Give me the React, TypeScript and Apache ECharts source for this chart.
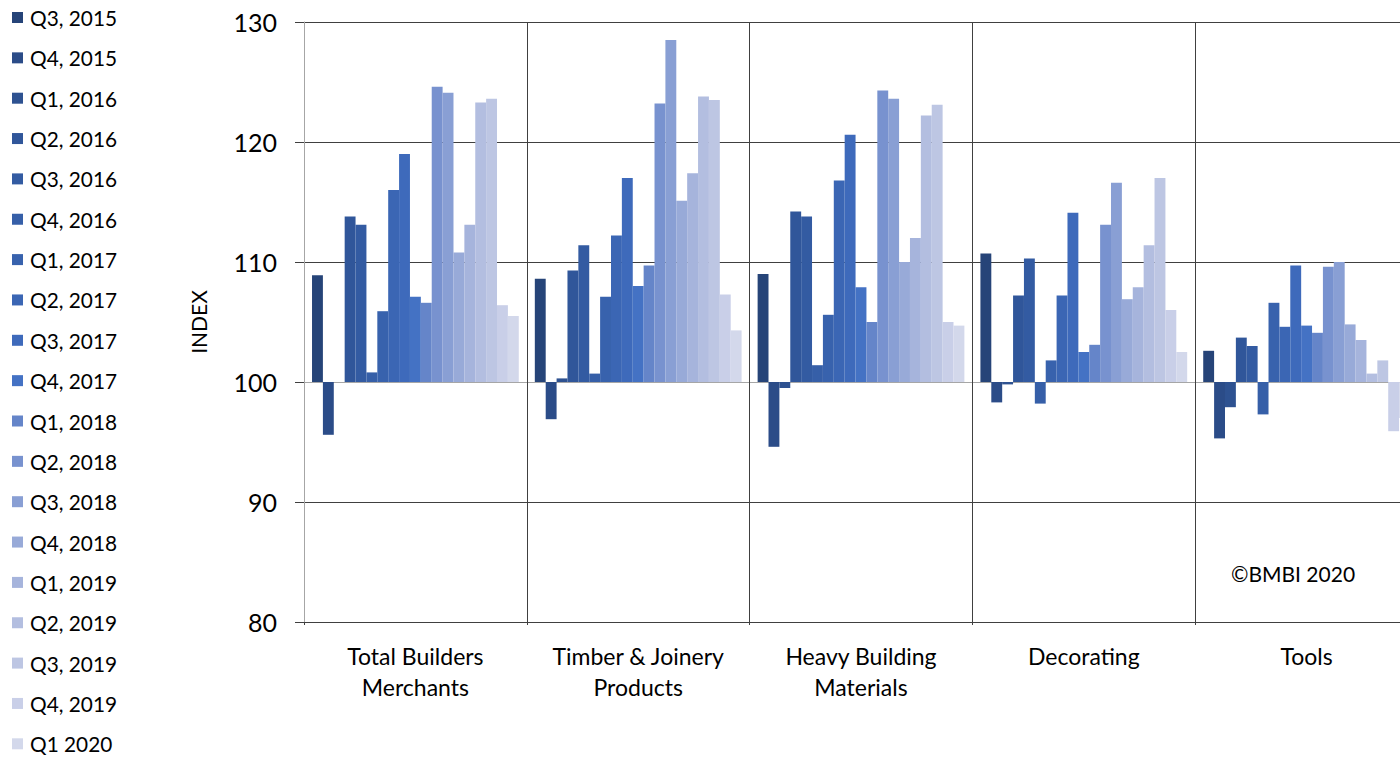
import React, { useEffect, useRef } from "react";
import * as echarts from "echarts";

const categories = [
  "Total Builders\nMerchants",
  "Timber & Joinery\nProducts",
  "Heavy Building\nMaterials",
  "Decorating",
  "Tools",
];

const quarters = [
  "Q3, 2015", "Q4, 2015", "Q1, 2016", "Q2, 2016", "Q3, 2016", "Q4, 2016",
  "Q1, 2017", "Q2, 2017", "Q3, 2017", "Q4, 2017", "Q1, 2018", "Q2, 2018",
  "Q3, 2018", "Q4, 2018", "Q1, 2019", "Q2, 2019", "Q3, 2019", "Q4, 2019",
  "Q1 2020",
];

const quarterColors = [
  "#264478", "#2B4C88", "#2E5291", "#30569A", "#335BA2", "#365FA8",
  "#3862AD", "#3B66B4", "#3E6ABB", "#4472C4", "#6585C9", "#7892CF",
  "#899FD4", "#98AAD8", "#A6B4DC", "#B3BEE0", "#BDC6E3", "#C9CFE8",
  "#D3D8EB",
];

// values per category, one per quarter (Q3 2015 .. Q1 2020)
const totalBuilders = [108.9, 95.6, 100.0, 113.8, 113.1, 100.8, 105.9, 116.0, 119.0, 107.1, 106.6, 124.6, 124.1, 110.8, 113.1, 123.3, 123.6, 106.4, 105.5];
const timberJoinery = [108.6, 96.9, 100.3, 109.3, 111.4, 100.7, 107.1, 112.2, 117.0, 108.0, 109.7, 123.2, 128.5, 115.1, 117.4, 123.8, 123.5, 107.3, 104.3];
const heavyBuilding = [109.0, 94.6, 99.5, 114.2, 113.8, 101.4, 105.6, 116.8, 120.6, 107.9, 105.0, 124.3, 123.6, 110.0, 112.0, 122.2, 123.1, 105.0, 104.7];
const decorating = [110.7, 98.3, 99.8, 107.2, 110.3, 98.2, 101.8, 107.2, 114.1, 102.5, 103.1, 113.1, 116.6, 106.9, 107.9, 111.4, 117.0, 106.0, 102.5];
const tools = [102.6, 95.3, 97.9, 103.7, 103.0, 97.3, 106.6, 104.6, 109.7, 104.7, 104.1, 109.6, 110.0, 104.8, 103.5, 100.7, 101.8, 95.9, 97.0];

const categoryValues = [totalBuilders, timberJoinery, heavyBuilding, decorating, tools];

const BASE_VALUE = 100;
const yTicks = [80, 90, 100, 110, 120, 130];
const copyright = "©BMBI 2020";
const yAxisTitle = "INDEX";

const FONT = "Lato, 'Open Sans', sans-serif";

export default function App() {
  const ref = useRef<HTMLDivElement>(null);

  useEffect(() => {
    if (!ref.current) return;
    const chart = echarts.init(ref.current, null, { renderer: "svg" });
    const n = quarters.length;

    const series = quarters.map((q, qi) => ({
      name: q,
      type: "custom",
      itemStyle: { color: quarterColors[qi] },
      data: categoryValues.map((vals, ci) => [ci, vals[qi]]),
      renderItem: (params: any, api: any) => {
        const cat = api.value(0);
        const v = api.value(1);
        const base = api.coord([cat, BASE_VALUE]);
        const top = api.coord([cat, v]);
        const band = api.size([1, 0])[0];
        const inner = band * 0.928;
        const w = inner / n;
        const x = base[0] - inner / 2 + qi * w;
        return {
          type: "rect",
          shape: {
            x,
            y: Math.min(base[1], top[1]),
            width: w,
            height: Math.abs(top[1] - base[1]),
          },
          style: { fill: quarterColors[qi] },
        };
      },
    }));

    chart.setOption({
      animation: false,
      color: quarterColors,
      textStyle: { fontFamily: FONT },
      legend: {
        orient: "vertical",
        left: 12,
        top: 7,
        height: 780,
        padding: 0,
        icon: "rect",
        itemWidth: 11,
        itemHeight: 11,
        itemGap: 19.35,
        itemStyle: { borderWidth: 0 },
        textStyle: { fontSize: 20.8, color: "#000", fontFamily: FONT, padding: [0, 0, 0, 2] },
        data: quarters,
      },
      grid: { left: 304, top: 22, width: 1114, bottom: 136, containLabel: false },
      xAxis: {
        type: "category",
        data: categories,
        boundaryGap: true,
        axisLine: { show: false },
        axisTick: { show: true, length: 3, lineStyle: { color: "#404040" } },
        splitLine: {
          show: true,
          interval: (idx: number) => idx !== 0,
          lineStyle: { color: "#404040", width: 1 },
        },
        axisLabel: {
          fontSize: 23,
          color: "#000",
          fontFamily: FONT,
          lineHeight: 31,
          margin: 18,
          interval: 0,
        },
      },
      yAxis: {
        type: "value",
        min: yTicks[0],
        max: yTicks[yTicks.length - 1],
        interval: 10,
        name: yAxisTitle,
        nameLocation: "middle",
        nameRotate: 90,
        nameGap: 95,
        nameTextStyle: { fontSize: 21, color: "#000", fontFamily: FONT },
        axisLine: { show: true, lineStyle: { color: "#a6a6a6", width: 1 } },
        axisTick: { show: true, length: 9, inside: false, lineStyle: { color: "#404040" } },
        splitLine: {
          show: true,
          lineStyle: {
            color: yTicks.map((t) => (t === BASE_VALUE ? "#a6a6a6" : "#404040")),
            width: 1,
          },
        },
        axisLabel: { fontSize: 25, color: "#000", fontFamily: FONT, margin: 27 },
      },
      graphic: [
        {
          type: "text",
          left: 1231,
          top: 563,
          style: { text: copyright, fontSize: 21, fill: "#000", fontFamily: FONT },
        },
      ],
      series,
    });

    return () => chart.dispose();
  }, []);

  return (
    <div style={{ position: "fixed", left: 0, top: 0, width: 1400, height: 758, overflow: "hidden", background: "#fff" }}>
      <div ref={ref} style={{ width: 1440, height: 758 }} />
    </div>
  );
}
